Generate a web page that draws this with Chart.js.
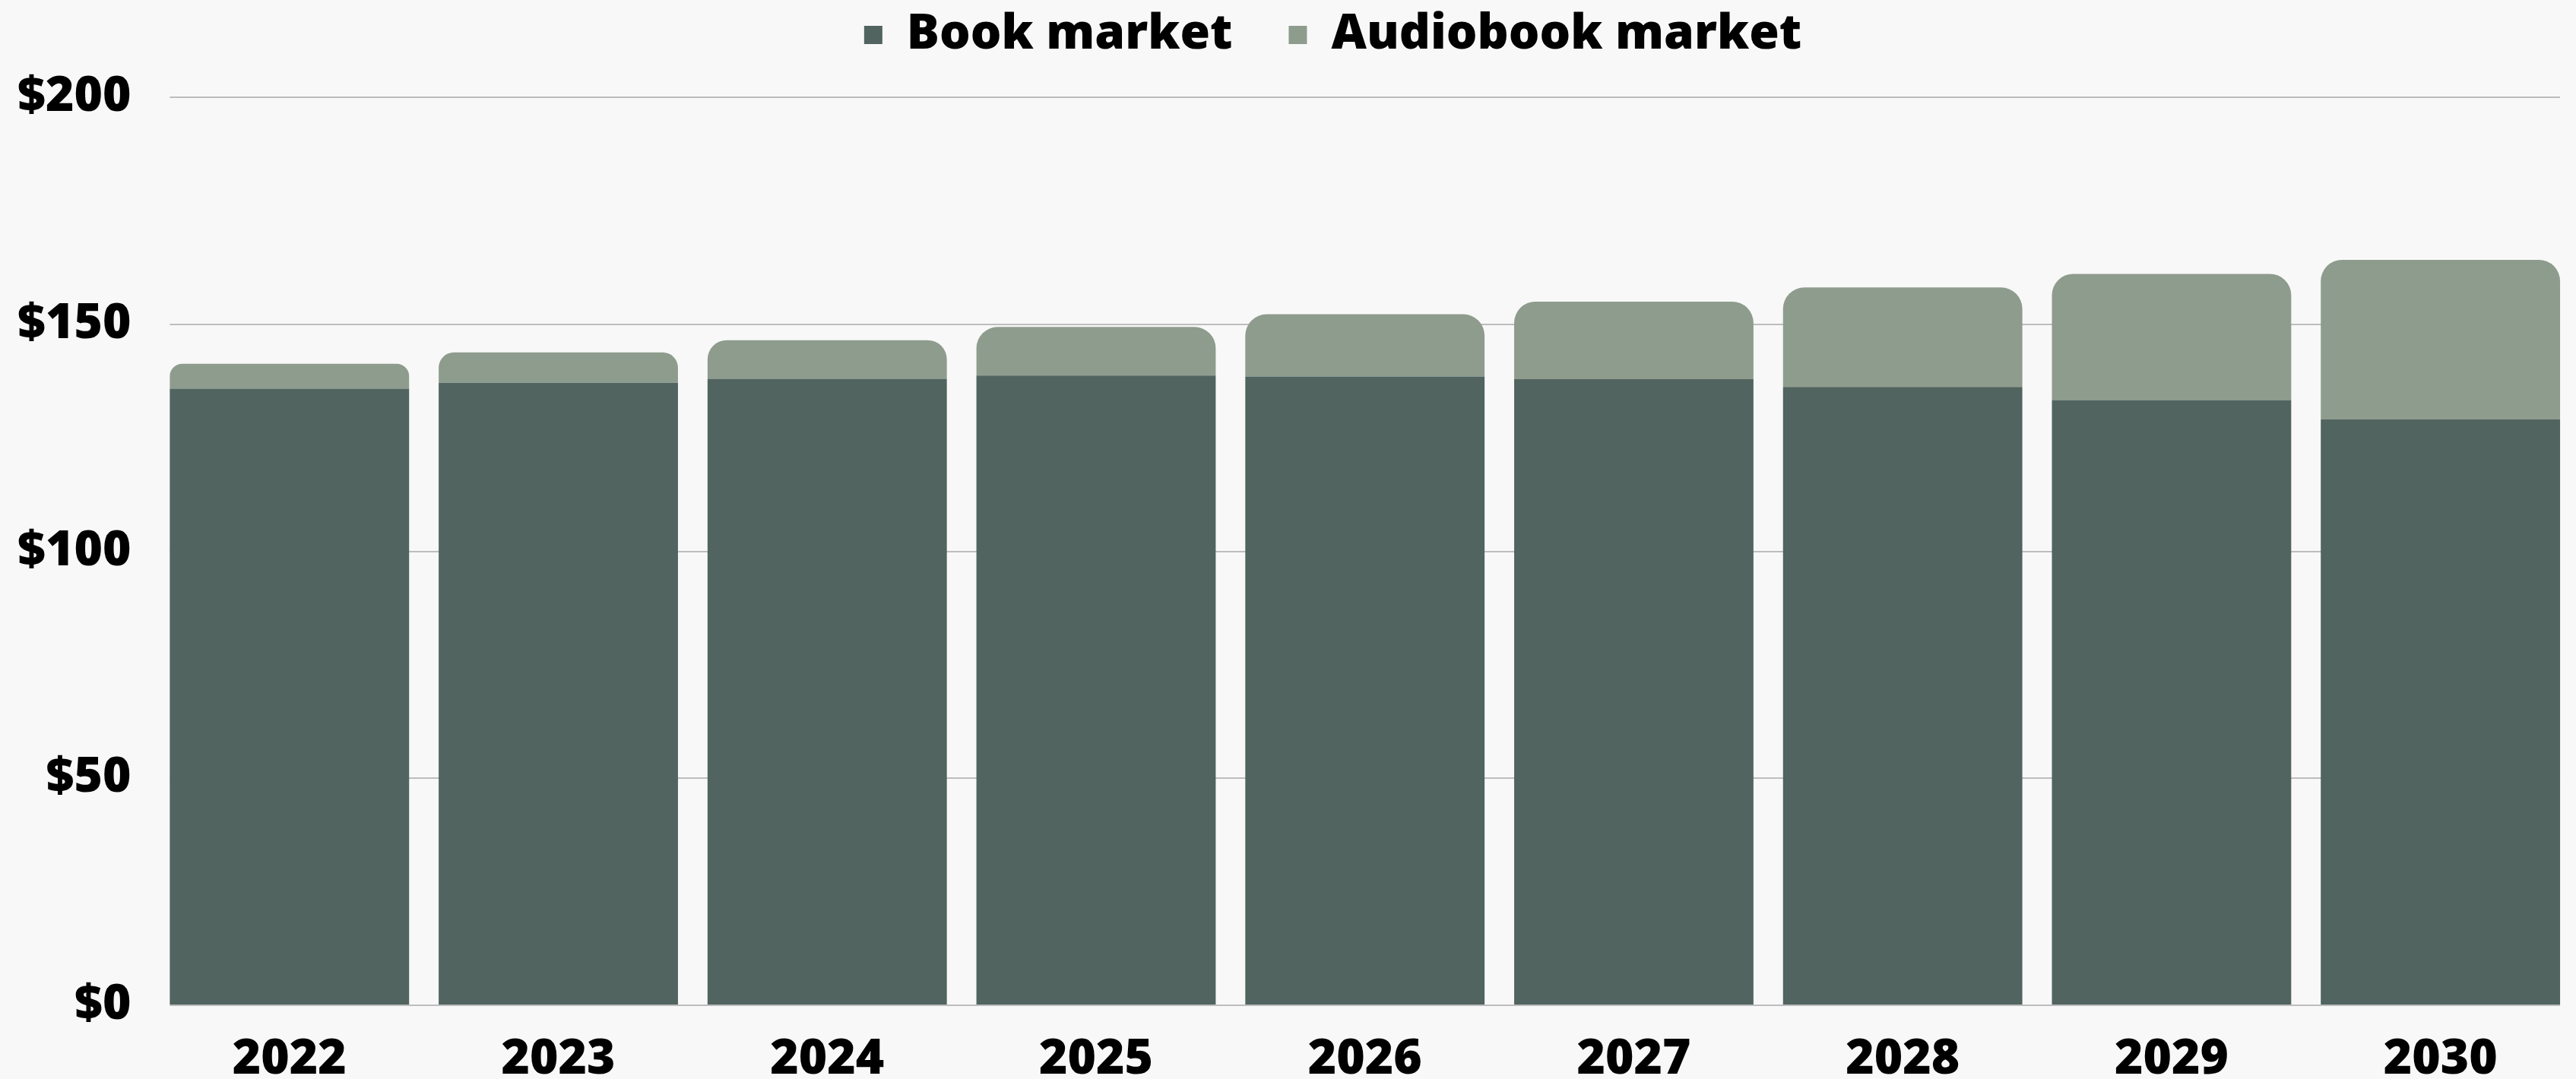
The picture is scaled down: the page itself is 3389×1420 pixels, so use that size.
<!DOCTYPE html>
<html>
<head>
<meta charset="utf-8">
<script src="https://cdn.jsdelivr.net/npm/chart.js@4"></script>
<style>
  html, body { margin: 0; padding: 0; background: #f8f8f8; }
  #wrap { width: 3389px; height: 1420px; position: relative; }
</style>
</head>
<body>
<div id="wrap"><canvas id="market-chart"></canvas></div>
<script>
// values in $ billions
const years = ['2022', '2023', '2024', '2025', '2026', '2027', '2028', '2029', '2030'];
const bookMarket = [135.8, 137.1, 138.0, 138.7, 138.5, 137.9, 136.2, 133.3, 129.1];
const audiobookMarket = [5.5, 6.7, 8.5, 10.7, 13.7, 17.1, 21.9, 27.8, 35.1];
const yTicks = [0, 50, 100, 150, 200];

const BOOK = '#51645f';
const AUDIO = '#8e9c8d';
const BAR_PCT = 0.89;
const tickFont = { family: "'Open Sans', sans-serif", size: 64, weight: '800', lineHeight: 1 };

// legend sits a bit right of centre and has more room under it than Chart.js gives;
// horizontal grid lines stop at the outer edges of the first and last bar
const layoutTweak = {
  id: 'layoutTweak',
  beforeInit(chart) {
    const legend = chart.legend;
    if (!legend) return;
    const fit = legend.fit;
    legend.fit = function () {
      fit.call(this);
      this.height += 40;
    };
  },
  afterLayout(chart) {
    const legend = chart.legend;
    if (legend) {
      legend.left += 64;
      legend.right += 64;
    }
    const y = chart.scales.y;
    if (y && !y._clipped) {
      const drawGrid = y.drawGrid;
      y.drawGrid = function (area) {
        const x = chart.scales.x;
        const cat = x.width / chart.data.labels.length;
        const inset = cat / 2 * (1 - BAR_PCT);
        const c = this.ctx;
        c.save();
        c.beginPath();
        c.rect(x.left + inset, 0, x.width - 2 * inset, chart.height);
        c.clip();
        drawGrid.call(this, area);
        c.restore();
      };
      y._clipped = true;
    }
  },
};

const ctx = document.getElementById('market-chart');

new Chart(ctx, {
  type: 'bar',
  data: {
    labels: years,
    datasets: [
      {
        label: 'Book market',
        data: bookMarket,
        backgroundColor: BOOK,
        borderWidth: 0,
        borderRadius: 0,
      },
      {
        label: 'Audiobook market',
        data: audiobookMarket,
        backgroundColor: AUDIO,
        borderWidth: 0,
        borderRadius: { topLeft: 28, topRight: 28, bottomLeft: 0, bottomRight: 0 },
        borderSkipped: 'bottom',
      },
    ],
  },
  plugins: [layoutTweak],
  options: {
    responsive: true,
    maintainAspectRatio: false,
    animation: false,
    datasets: {
      bar: { categoryPercentage: 1, barPercentage: BAR_PCT },
    },
    layout: { padding: { top: -60, left: -8.5, right: 1.5, bottom: -47 } },
    plugins: {
      tooltip: { enabled: false },
      legend: {
        position: 'top',
        labels: {
          color: '#000',
          boxWidth: 24,
          boxHeight: 24,
          padding: 74,
          font: tickFont,
        },
      },
    },
    scales: {
      x: {
        stacked: true,
        grid: { display: false, drawTicks: false },
        border: { display: false },
        ticks: { color: '#000', font: tickFont, padding: 40, maxRotation: 0 },
      },
      y: {
        stacked: true,
        min: 0,
        max: 200,
        afterBuildTicks: axis => { axis.ticks = yTicks.map(v => ({ value: v })); },
        grid: { color: '#bdbdbd', lineWidth: 2, drawTicks: false },
        border: { display: false },
        ticks: {
          color: '#000',
          font: tickFont,
          padding: 31.5,
          callback: v => '$' + v,
        },
      },
    },
  },
});
</script>
</body>
</html>
